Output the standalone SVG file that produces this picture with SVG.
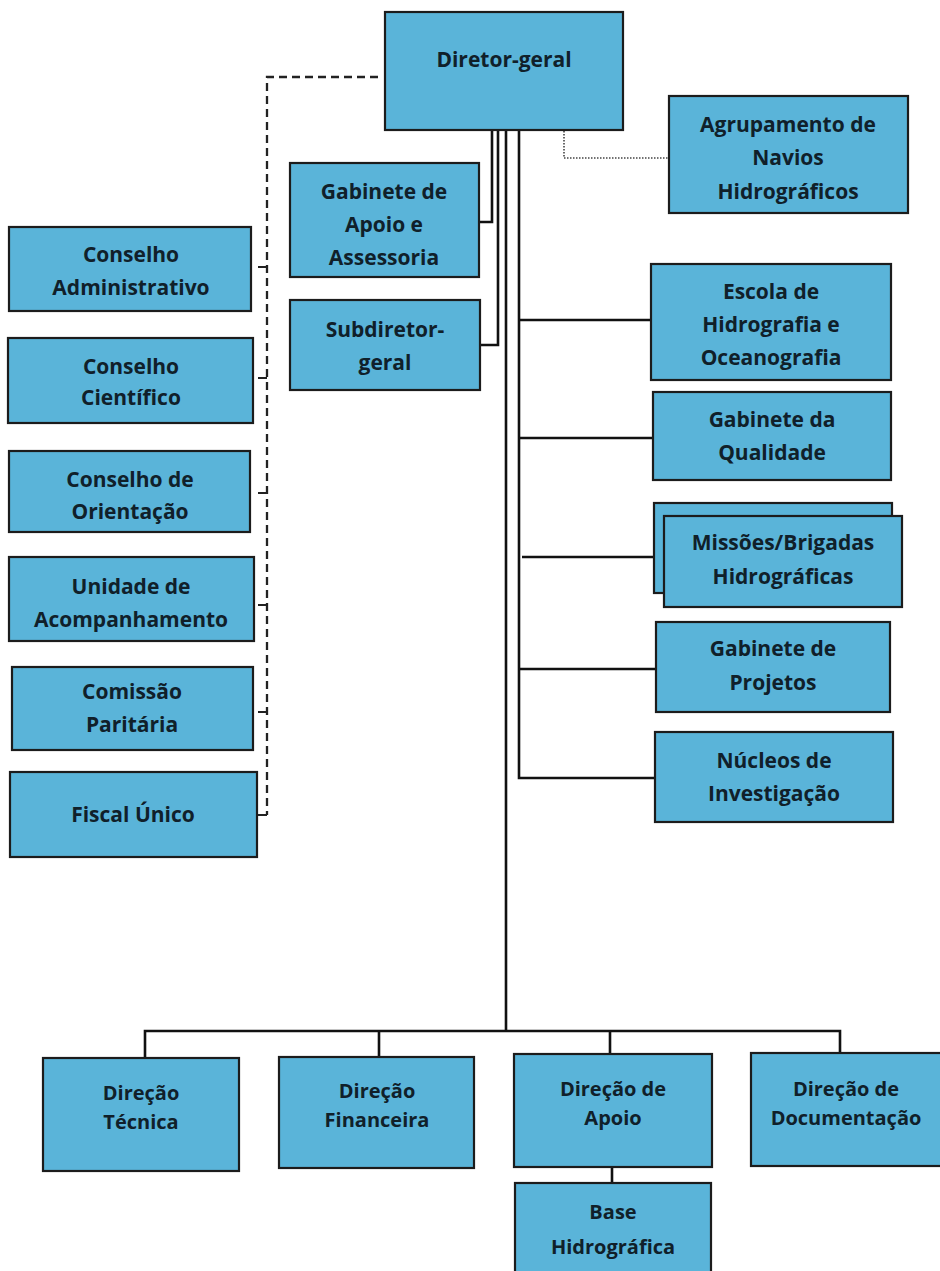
<svg xmlns="http://www.w3.org/2000/svg" width="940" height="1271" viewBox="0 0 940 1271">
<style>
.box{fill:#5ab4d9;stroke:#1c1c1c;stroke-width:2.2}
.t{font-family:"Open Sans","Liberation Sans",sans-serif;font-weight:bold;font-size:21px;fill:#10202a;text-anchor:middle}
.b{font-size:20px}
.ln{fill:none;stroke:#111;stroke-width:2.6}
.dash{fill:none;stroke:#222;stroke-width:2.3;stroke-dasharray:8 5}
.tick{fill:none;stroke:#222;stroke-width:2}
.dot{fill:none;stroke:#444;stroke-width:1.6;stroke-dasharray:1.5 1.5}
</style>
<rect width="940" height="1271" fill="#fff"/>
<g id="connectors">
<path class="dash" d="M378 77 H267 V815"/>
<path class="tick" d="M258 267H267 M258 378H267 M258 493H267 M258 605H267 M258 712H267 M258 815H267"/>
<path class="dot" d="M564 131 V158 H669"/>
<path class="ln" d="M492 130 V222 H479"/>
<path class="ln" d="M498 130 V345 H480"/>
<path class="ln" d="M506 130 V1031"/>
<path class="ln" d="M519 130 V778 H655"/>
<path class="ln" d="M519 320 H651 M519 438 H653 M522 557 H654 M519 669 H656"/>
<path class="ln" d="M145 1058 V1031 H840 V1053 M379 1031 V1057 M610 1031 V1054"/>
<path class="ln" d="M612 1166 V1183"/>
</g>
<g id="diretor-geral"><rect class="box" x="385" y="12" width="238" height="118"/><text class="t" x="504" y="67">Diretor-geral</text></g>
<g id="agrupamento"><rect class="box" x="669" y="96" width="239" height="117"/><text class="t" x="788" y="132">Agrupamento de</text><text class="t" x="788" y="165">Navios</text><text class="t" x="788" y="199">Hidrográficos</text></g>
<g id="gabinete-apoio"><rect class="box" x="290" y="163" width="189" height="114"/><text class="t" x="384" y="199">Gabinete de</text><text class="t" x="384" y="232">Apoio e</text><text class="t" x="384" y="265">Assessoria</text></g>
<g id="subdiretor"><rect class="box" x="290" y="300" width="190" height="90"/><text class="t" x="385" y="337">Subdiretor-</text><text class="t" x="385" y="370">geral</text></g>
<g id="conselho-administrativo"><rect class="box" x="9" y="227" width="242" height="84"/><text class="t" x="131" y="262">Conselho</text><text class="t" x="131" y="295">Administrativo</text></g>
<g id="conselho-cientifico"><rect class="box" x="8" y="338" width="245" height="85"/><text class="t" x="131" y="374">Conselho</text><text class="t" x="131" y="405">Científico</text></g>
<g id="conselho-orientacao"><rect class="box" x="9" y="451" width="241" height="81"/><text class="t" x="130" y="487">Conselho de</text><text class="t" x="130" y="519">Orientação</text></g>
<g id="unidade"><rect class="box" x="9" y="557" width="245" height="84"/><text class="t" x="131" y="594">Unidade de</text><text class="t" x="131" y="627">Acompanhamento</text></g>
<g id="comissao"><rect class="box" x="12" y="667" width="241" height="83"/><text class="t" x="132" y="699">Comissão</text><text class="t" x="132" y="732">Paritária</text></g>
<g id="fiscal"><rect class="box" x="10" y="772" width="247" height="85"/><text class="t" x="133" y="822">Fiscal Único</text></g>
<g id="escola"><rect class="box" x="651" y="264" width="240" height="116"/><text class="t" x="771" y="299">Escola de</text><text class="t" x="771" y="332">Hidrografia e</text><text class="t" x="771" y="365">Oceanografia</text></g>
<g id="qualidade"><rect class="box" x="653" y="392" width="238" height="88"/><text class="t" x="772" y="427">Gabinete da</text><text class="t" x="772" y="460">Qualidade</text></g>
<g id="missoes"><rect class="box" x="654" y="503" width="238" height="90"/><rect class="box" x="664" y="516" width="238" height="91"/><text class="t" x="783" y="550">Missões/Brigadas</text><text class="t" x="783" y="584">Hidrográficas</text></g>
<g id="projetos"><rect class="box" x="656" y="622" width="234" height="90"/><text class="t" x="773" y="656">Gabinete de</text><text class="t" x="773" y="690">Projetos</text></g>
<g id="nucleos"><rect class="box" x="655" y="732" width="238" height="90"/><text class="t" x="774" y="768">Núcleos de</text><text class="t" x="774" y="801">Investigação</text></g>
<g id="direcao-tecnica"><rect class="box" x="43" y="1058" width="196" height="113"/><text class="t b" x="141" y="1100">Direção</text><text class="t b" x="141" y="1129">Técnica</text></g>
<g id="direcao-financeira"><rect class="box" x="279" y="1057" width="195" height="111"/><text class="t b" x="377" y="1098">Direção</text><text class="t b" x="377" y="1127">Financeira</text></g>
<g id="direcao-apoio"><rect class="box" x="514" y="1054" width="198" height="113"/><text class="t b" x="613" y="1096">Direção de</text><text class="t b" x="613" y="1125">Apoio</text></g>
<g id="direcao-documentacao"><rect class="box" x="751" y="1053" width="195" height="113"/><text class="t b" x="846" y="1096">Direção de</text><text class="t b" x="846" y="1125">Documentação</text></g>
<g id="base-hidrografica"><rect class="box" x="515" y="1183" width="196" height="95"/><text class="t b" x="613" y="1219">Base</text><text class="t b" x="613" y="1254">Hidrográfica</text></g>
</svg>
